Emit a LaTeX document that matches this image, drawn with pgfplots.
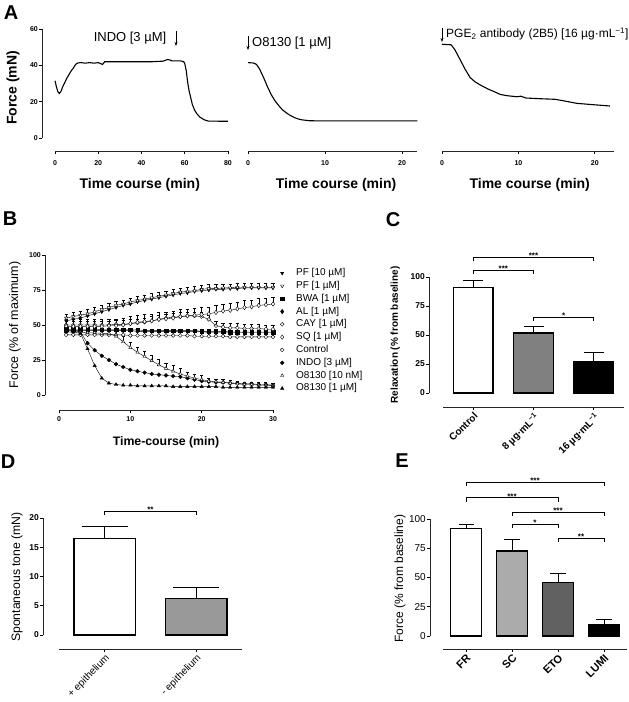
\documentclass[border=0pt]{standalone}
\usepackage{fontspec}
\setmainfont{Liberation Sans}
\usepackage{pgfplots}
\pgfplotsset{compat=1.18}
\usetikzlibrary{arrows.meta,plotmarks}
\newcommand{\fs}[1]{\fontsize{#1}{#1}\selectfont}
\tikzset{sig/.style={line width=0.9pt, black}}
\pgfplotsset{
  gp/.style={
    scale only axis, anchor=south west, clip=false,
    axis x line*=bottom, axis y line*=left,
    tick align=outside, major tick length=3pt,
    axis line style={line width=0.9pt,black},
    major tick style={line width=0.8pt,black},
    /pgf/number format/assume math mode=true,
    tick label style={font=\fs{7}\bfseries},
    xticklabel style={inner sep=1pt},
    yticklabel style={inner sep=1pt},
    label style={font=\fs{14}\bfseries},
  },
  trace/.style={black, line width=1.1pt, no marks},
  gpbar/.style={ybar, bar shift=0pt, draw=black, line width=1.2pt,
    error bars/y dir=plus, error bars/y explicit,
    error bars/error bar style={line width=1pt, black},
    error bars/error mark options={rotate=90, mark size=#1, line width=1pt, black}},
  ser/.style={black, line width=0.4pt, mark size=1.9pt},
  errp/.style={error bars/y dir=plus, error bars/y explicit,
    error bars/error bar style={line width=0.4pt, black},
    error bars/error mark options={rotate=90, mark size=1.6pt, line width=0.4pt, black}},
}
% axis line as a thin filled strip: vertical {x}{ytop}{ybottom}, horizontal {y}{xleft}{xright}
\newcommand{\axv}[3]{\fill[black!85] (#1pt-0.5pt,-#2pt) rectangle (#1pt+0.5pt,-#3pt);}
\newcommand{\axh}[3]{\fill[black!85] (#2pt,-#1pt+0.5pt) rectangle (#3pt,-#1pt-0.5pt);}
\begin{document}
\begin{tikzpicture}
\useasboundingbox (0,0) rectangle (629pt,-702pt);

% ---------- A ----------
\begin{axis}[gp, at={(55pt,-138pt)}, width=173pt, height=109pt,
  xmin=0, xmax=80, ymin=0, ymax=60,
  axis x line shift=13pt, axis y line shift=13pt,
  xtick={0,20,...,80}, ytick={0,20,...,60},
  xticklabel style={yshift=-5pt},
  xlabel={Time course (min)}, ylabel={Force (mN)},
  xlabel style={at={(axis description cs:0.49,-0.431)}, anchor=center},
  ylabel style={at={(axis description cs:-0.243,0.459)}, anchor=center}]
\addplot[trace] coordinates {(0,31.5)(0.7,28)(1.3,25.5)(2,24.5)(2.7,25.5)(3.5,28)
 (4.5,30.5)(5.5,33)(6.5,35)(7.5,37)(8.5,38.5)(9.5,40.5)(10.5,41.3)(12,41.5)(14,41.2)
 (16,41.5)(18,41.2)(20,41.5)(21,41)(22,40.5)(23,42)(25,42)(30,42)(40,42)(45,42)
 (50,42.3)(52,43.2)(53,43)(54,42.5)(58,42.5)(59.5,42)(60,41)(60.7,37)(61.3,31)
 (62,26)(62.5,23.5)(63.5,18.5)(64.5,15.5)(65.5,13.5)(67,11.5)(69,10)(71,9.3)(80,9.2)};
\end{axis}

\begin{axis}[gp, at={(248pt,-138pt)}, width=169.4pt, height=109pt,
  xmin=0, xmax=22, ymin=0, ymax=60, axis y line=none,
  axis x line shift=13pt, xtick={0,10,20},
  xticklabel style={yshift=-5pt},
  xlabel={Time course (min)},
  xlabel style={at={(axis description cs:0.52,-0.431)}, anchor=center}]
\addplot[trace] coordinates {(0,41.5)(0.7,41.3)(1.1,40.5)(1.5,38)(2,33.5)(2.5,28.5)
 (3,24)(3.5,20.5)(4,17.8)(4.5,15.4)(5,13.8)(5.5,12.4)(6,11.3)(6.5,10.5)(7,10)(8,9.5)
 (10,9.4)(15,9.4)(22,9.4)};
\end{axis}

\begin{axis}[gp, at={(442pt,-138pt)}, width=172pt, height=109pt,
  xmin=0, xmax=22.5, ymin=0, ymax=60, axis y line=none,
  axis x line shift=13pt, xtick={0,10,20},
  xticklabel style={yshift=-5pt},
  xlabel={Time course (min)},
  xlabel style={at={(axis description cs:0.51,-0.431)}, anchor=center}]
\addplot[trace] coordinates {(0,51.6)(1.2,51.3)(1.7,48.5)(2.35,43.3)(3,38)(3.66,33.4)
 (4.3,31)(5,29.2)(6,27)(7,25.2)(7.6,24)(8.5,23.3)(9.8,22.7)(10.3,23)(11,22)(13,21.6)
 (14.8,21.3)(16,20.4)(17.6,19.1)(19,18.6)(20.5,18.1)(22,17.6)};
\end{axis}

\node[font=\fs{13}] at (130pt,-38pt) {INDO [3 µM]};
\draw[line width=0.8pt,-{Stealth[length=4pt,width=3pt]}] (176pt,-31pt) -- (176pt,-46pt);
\draw[line width=0.8pt,-{Stealth[length=4pt,width=3pt]}] (248pt,-36pt) -- (248pt,-50pt);
\node[font=\fs{13}, anchor=west, inner sep=0pt] at (252pt,-43pt) {O8130 [1 µM]};
\draw[line width=0.8pt,-{Stealth[length=4pt,width=3pt]}] (442pt,-28pt) -- (442pt,-42pt);
\node[font=\fs{12}, anchor=west, inner sep=0pt] at (446pt,-34pt)
  {PGE\textsubscript{2} antibody (2B5) [16 µg·mL\textsuperscript{−1}]};

% ---------- B ----------
\begin{axis}[gp, at={(59pt,-395pt)}, width=214pt, height=140pt,
  xmin=0, xmax=30, ymin=0, ymax=100,
  axis x line shift=15pt, axis y line shift=14pt,
  xtick={0,10,20,30}, ytick={0,25,...,100},
  xticklabel style={yshift=-2pt},
  xlabel={Time-course (min)}, ylabel={Force (\% of maximum)},
  xlabel style={font=\fs{12.3}\bfseries, at={(axis description cs:0.5,-0.336)}, anchor=center},
  ylabel style={font=\fs{12.5}\mdseries, at={(axis description cs:-0.206,0.5)}, anchor=center},
  legend cell align=left,
  legend image code/.code={\path[draw=none,fill=none] (-3pt,-3pt) rectangle (3pt,3pt); \draw[#1] plot coordinates {(0pt,0pt)};},
  legend style={draw=none, fill=none, inner sep=0pt, anchor=north west,
    at={(axis description cs:1.028,0.911)}, font=\fs{10}, row sep=1.8pt, column sep=10pt,
    nodes={inner sep=1pt, text height=7pt, text depth=2pt}}]
\addplot[ser, mark=triangle*, mark options={rotate=180, fill=black}] coordinates {
 (1,53)(2,54)(3,55)(4,56.5)(5,58)(6,59.5)(7,61)(8,62.5)(9,64)(10,65)(11,66.5)(12,67.5)
 (13,68.5)(14,69.5)(15,70.5)(16,71.5)(17,72.5)(18,73)(19,74)(20,74.5)(21,75)(22,75.5)
 (23,75.5)(24,76)(25,76)(26,76.5)(27,76.5)(28,76.5)(29,76.5)(30,76.5)};
\addplot[ser, errp, mark=triangle*, mark options={rotate=180, fill=white}] coordinates {
 (1,55)+-(0,3) (2,56)+-(0,3) (3,57)+-(0,3) (4,58)+-(0,3) (5,59.5)+-(0,3) (6,61)+-(0,3)
 (7,62.5)+-(0,3) (8,64)+-(0,3) (9,65)+-(0,3) (10,66.5)+-(0,3) (11,67.5)+-(0,3)
 (12,68.5)+-(0,3) (13,69.5)+-(0,3) (14,70.5)+-(0,3) (15,71.5)+-(0,3) (16,72.5)+-(0,3)
 (17,73.5)+-(0,3) (18,74)+-(0,3) (19,74.5)+-(0,3) (20,75.5)+-(0,3) (21,76)+-(0,3)
 (22,76)+-(0,3) (23,76.5)+-(0,3) (24,76.5)+-(0,3) (25,77)+-(0,3) (26,77)+-(0,3)
 (27,77)+-(0,3) (28,77)+-(0,3) (29,77)+-(0,3) (30,77)+-(0,3)};
\addplot[ser, mark=square*, mark size=1.7pt] coordinates {
 (1,47)(2,47)(3,47)(4,47)(5,47)(6,46.5)(7,46.5)(8,46.5)(9,46.5)(10,46.5)(11,46.5)(12,46)
 (13,46)(14,46)(15,46)(16,46)(17,46)(18,46)(19,46)(20,45.5)(21,45.5)(22,45.5)(23,45.5)
 (24,45)(25,45)(26,45)(27,45)(28,45)(29,45)(30,45)};
\addplot[ser, mark=diamond*, mark size=2.2pt] coordinates {
 (1,46)(2,46)(3,46)(4,46)(5,46)(6,46)(7,46)(8,46)(9,46)(10,46)(11,45.5)(12,45.5)
 (13,45.5)(14,45.5)(15,45.5)(16,45.5)(17,45.5)(18,45.5)(19,45.5)(20,45.5)(21,44.5)
 (22,44.5)(23,44.5)(24,44.5)(25,44.5)(26,44.5)(27,44.5)(28,44.5)(29,44.5)(30,44.5)};
\addplot[ser, errp, mark=halfcircle*, mark options={fill=white}] coordinates {
 (1,50)+-(0,3) (2,50)+-(0,3) (3,50)+-(0,3) (4,50)+-(0,3) (5,50)+-(0,3) (6,50)+-(0,3)
 (7,50)+-(0,3) (8,50.5)+-(0,3) (9,50.5)+-(0,3) (10,51)+-(0,3) (11,51.5)+-(0,3)
 (12,52)+-(0,3) (13,53)+-(0,3) (14,54)+-(0,3) (15,55)+-(0,3) (16,55.5)+-(0,3)
 (17,56)+-(0,3) (18,56.5)+-(0,3) (19,56.5)+-(0,3) (20,56)+-(0,3) (21,54)+-(0,3)
 (22,49.5)+-(0,3) (23,48.5)+-(0,3) (24,48)+-(0,3) (25,48)+-(0,3) (26,47.5)+-(0,3)
 (27,47.5)+-(0,3) (28,47.5)+-(0,3) (29,47)+-(0,3) (30,47)+-(0,3)};
\addplot[ser, errp, mark=diamond*, mark size=2.2pt, mark options={fill=white}] coordinates {
 (1,49)+-(0,5) (2,49)+-(0,5) (3,49)+-(0,5) (4,49)+-(0,5) (5,49)+-(0,5) (6,49)+-(0,5)
 (7,49.5)+-(0,5) (8,49.5)+-(0,5) (9,50)+-(0,5) (10,51)+-(0,5) (11,52)+-(0,5)
 (12,52.5)+-(0,5) (13,53)+-(0,5) (14,54)+-(0,5) (15,54.5)+-(0,5) (16,55)+-(0,5)
 (17,56)+-(0,5) (18,56.5)+-(0,5) (19,57)+-(0,5) (20,57.5)+-(0,5) (21,58)+-(0,5)
 (22,59)+-(0,5) (23,60)+-(0,5) (24,60.5)+-(0,5) (25,61.5)+-(0,5) (26,62.5)+-(0,5)
 (27,63)+-(0,5) (28,64)+-(0,5) (29,64.5)+-(0,5) (30,65)+-(0,5)};
\addplot[ser, mark=*, mark options={fill=white}] coordinates {
 (1,43)(2,43)(3,43)(4,43)(5,43)(6,43)(7,43)(8,43)(9,43)(10,42.5)(11,42.5)(12,42.5)
 (13,42.5)(14,42.5)(15,42.5)(16,42.5)(17,42.5)(18,42.5)(19,42)(20,42)(21,42)(22,42)
 (23,42)(24,41.5)(25,41.5)(26,41.5)(27,41.5)(28,41.5)(29,41.5)(30,41.5)};
\addplot[ser, mark=*] coordinates {
 (1,47)(2,46)(3,45)(4,37)(5,32)(6,28)(7,25)(8,22)(9,20)(10,18)(11,17)(12,16)(13,15)
 (14,14.5)(15,14)(16,13.5)(17,13)(18,12)(19,11)(20,10)(21,9.5)(22,9)(23,9)(24,8.5)
 (25,8.5)(26,8)(27,8)(28,7.5)(29,7.5)(30,7)};
\addplot[ser, errp, mark=triangle*, mark options={fill=white}] coordinates {
 (1,45)+-(0,2) (2,45)+-(0,2) (3,45)+-(0,2) (4,44.5)+-(0,2) (5,44.5)+-(0,2) (6,44)+-(0,2)
 (7,44)+-(0,2) (8,42)+-(0,4) (9,38)+-(0,4) (10,34)+-(0,4) (11,30.5)+-(0,4)
 (12,27.5)+-(0,4) (13,24.5)+-(0,4) (14,21.5)+-(0,4) (15,19)+-(0,4) (16,17)+-(0,4)
 (17,15)+-(0,4) (18,13.5)+-(0,3) (19,12)+-(0,3) (20,11)+-(0,3) (21,10)+-(0,2)
 (22,9.5)+-(0,2) (23,9)+-(0,2) (24,8.5)+-(0,2) (25,8)+-(0,2) (26,7.5)+-(0,2)
 (27,7.5)+-(0,2) (28,7)+-(0,2) (29,7)+-(0,2) (30,6.5)+-(0,2)};
\addplot[ser, mark=triangle*] coordinates {
 (1,45)(2,45)(3,44)(4,33)(5,21)(6,12)(7,8.5)(8,7.5)(9,7)(10,7)(11,6.5)(12,6.5)(13,6.5)
 (14,6.5)(15,6.5)(16,6)(17,6)(18,6)(19,6)(20,6)(21,6)(22,6)(23,5.5)(24,5.5)(25,5.5)
 (26,5.5)(27,5.5)(28,5.5)(29,5.5)(30,5.5)};
\legend{PF [10 µM], PF [1 µM], BWA [1 µM], AL [1 µM], CAY [1 µM], SQ [1 µM], Control,
 INDO [3 µM], O8130 [10 nM], O8130 [1 µM]}
\end{axis}

% ---------- C ----------
\begin{axis}[gp, at={(443pt,-393pt)}, width=181pt, height=116pt,
  xmin=-0.5, xmax=2.5, ymin=0, ymax=100,
  axis x line shift=14pt, axis y line shift=14pt,
  xtick={0,1,2}, ytick={0,25,...,100},
  xticklabels={Control, 8 µg·mL\textsuperscript{−1}, 16 µg·mL\textsuperscript{−1}},
  yticklabel style={font=\fs{8.5}\bfseries},
  xticklabel style={font=\fs{10}\bfseries, rotate=45, anchor=north east},
  ylabel={Relaxation (\% from baseline)},
  ylabel style={font=\fs{10}\bfseries, at={(axis description cs:-0.264,0.5)}, anchor=center}]
\addplot[gpbar=10pt, bar width=0.66, fill=white] coordinates {(0,91) +- (0,6)};
\addplot[gpbar=10pt, bar width=0.66, fill=black!50] coordinates {(1,51.7) +- (0,5.8)};
\addplot[gpbar=10pt, bar width=0.66, fill=black] coordinates {(2,26.7) +- (0,7.8)};
\draw[sig] (axis cs:0,113.5) -- (axis cs:0,117) -- (axis cs:2,117) -- (axis cs:2,113.5);
\node[font=\fs{8}\bfseries, anchor=south, inner sep=0.5pt, yshift=-2pt] at (axis cs:1,117) {***};
\draw[sig] (axis cs:0,102.5) -- (axis cs:0,106) -- (axis cs:1,106) -- (axis cs:1,102.5);
\node[font=\fs{8}\bfseries, anchor=south, inner sep=0.5pt, yshift=-2pt] at (axis cs:0.5,106) {***};
\draw[sig] (axis cs:1,62) -- (axis cs:1,65.5) -- (axis cs:2,65.5) -- (axis cs:2,62);
\node[font=\fs{8}\bfseries, anchor=south, inner sep=0.5pt, yshift=-2pt] at (axis cs:1.5,65.5) {*};
\end{axis}

% ---------- D ----------
\begin{axis}[gp, at={(59pt,-635pt)}, width=183pt, height=117pt,
  xmin=-0.5, xmax=1.5, ymin=0, ymax=20,
  axis x line shift=14pt, axis y line shift=16pt,
  xtick={0,1}, ytick={0,5,...,20},
  xticklabels={+ epithelium, - epithelium},
  yticklabel style={font=\fs{8.5}\bfseries},
  xticklabel style={font=\fs{10}, rotate=45, anchor=north east},
  ylabel={Spontaneous tone (mN)},
  ylabel style={font=\fs{12.2}\mdseries, at={(axis description cs:-0.23,0.496)}, anchor=center}]
\addplot[gpbar=23pt, bar width=0.67, fill=white] coordinates {(0,16.5) +- (0,2.1)};
\addplot[gpbar=23pt, bar width=0.67, fill=black!40] coordinates {(1,6.2) +- (0,1.9)};
\draw[sig] (axis cs:0,20.5) -- (axis cs:0,21.2) -- (axis cs:1,21.2) -- (axis cs:1,20.5);
\node[font=\fs{8}\bfseries, anchor=south, inner sep=0.5pt, yshift=-2pt] at (axis cs:0.5,21.2) {**};
\end{axis}

% ---------- E ----------
\begin{axis}[gp, at={(443pt,-636pt)}, width=184pt, height=117pt,
  xmin=-0.5, xmax=3.5, ymin=0, ymax=100,
  axis x line shift=13pt, axis y line shift=13pt,
  xtick={0,1,2,3}, ytick={0,25,...,100},
  xticklabels={FR, SC, ETO, LUMI},
  yticklabel style={font=\fs{10}\mdseries},
  xticklabel style={font=\fs{11}\bfseries, rotate=45, anchor=north east},
  ylabel={Force (\% from baseline)},
  ylabel style={font=\fs{12}\mdseries, at={(axis description cs:-0.234,0.49)}, anchor=center}]
\addplot[gpbar=7.5pt, bar width=0.66, fill=white] coordinates {(0,92) +- (0,2.9)};
\addplot[gpbar=8pt, bar width=0.66, fill=black!33] coordinates {(1,72.6) +- (0,10)};
\addplot[gpbar=8pt, bar width=0.66, fill=black!62] coordinates {(2,45.6) +- (0,8)};
\addplot[gpbar=8pt, bar width=0.66, fill=black] coordinates {(3,10) +- (0,3.7)};
\draw[sig] (axis cs:0,128) -- (axis cs:0,131.6) -- (axis cs:3,131.6) -- (axis cs:3,128);
\node[font=\fs{8}\bfseries, anchor=south, inner sep=0.5pt, yshift=-2pt] at (axis cs:1.5,131.6) {***};
\draw[sig] (axis cs:0,114.5) -- (axis cs:0,118) -- (axis cs:2,118) -- (axis cs:2,114.5);
\node[font=\fs{8}\bfseries, anchor=south, inner sep=0.5pt, yshift=-2pt] at (axis cs:1,118) {***};
\draw[sig] (axis cs:1,102.5) -- (axis cs:1,106) -- (axis cs:3,106) -- (axis cs:3,102.5);
\node[font=\fs{8}\bfseries, anchor=south, inner sep=0.5pt, yshift=-2pt] at (axis cs:2,106) {***};
\draw[sig] (axis cs:1,92.2) -- (axis cs:1,95.7) -- (axis cs:2,95.7) -- (axis cs:2,92.2);
\node[font=\fs{8}\bfseries, anchor=south, inner sep=0.5pt, yshift=-2pt] at (axis cs:1.5,95.7) {*};
\draw[sig] (axis cs:2,80.2) -- (axis cs:2,83.7) -- (axis cs:3,83.7) -- (axis cs:3,80.2);
\node[font=\fs{8}\bfseries, anchor=south, inner sep=0.5pt, yshift=-2pt] at (axis cs:2.5,83.7) {**};
\end{axis}

% offset axis lines (GraphPad style), as thin filled strips in page pixels
\axv{42}{29}{138}  \axh{151}{55}{228}
\axh{151}{248}{417.4}
\axh{151}{442}{614}
\axv{45}{255}{395} \axh{410}{59}{273}
\axv{429}{277}{393} \axh{407}{443}{624}
\axv{43}{518}{635} \axh{649}{59}{242}
\axv{430}{519}{636} \axh{649}{443}{627}

% panel letters
\node[font=\fs{20}\bfseries] at (11pt,-13pt) {A};
\node[font=\fs{20}\bfseries] at (10pt,-219pt) {B};
\node[font=\fs{20}\bfseries] at (393pt,-220pt) {C};
\node[font=\fs{20}\bfseries] at (8pt,-462pt) {D};
\node[font=\fs{20}\bfseries] at (402pt,-461pt) {E};
\end{tikzpicture}
\end{document}
